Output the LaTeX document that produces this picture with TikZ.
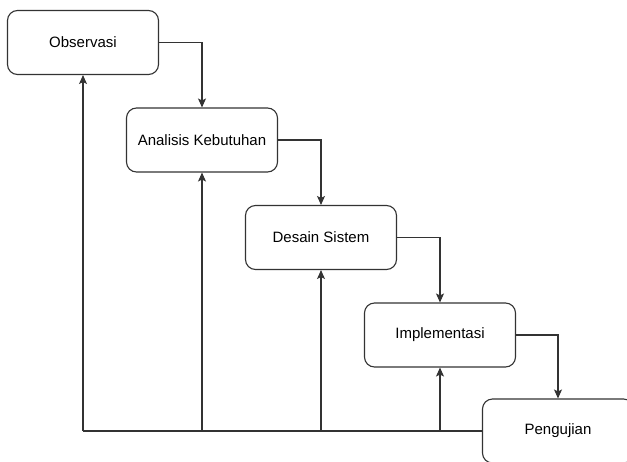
\documentclass[tikz,border=0pt]{standalone}
\usepackage{fontspec}
\setmainfont{Liberation Sans}
\usetikzlibrary{arrows.meta,positioning}
\tikzset{
  phase/.style={draw=black!80, line width=1.1pt, rounded corners=10pt,
    minimum width=151pt, minimum height=64pt, font=\fontsize{15}{18}\selectfont},
  flow/.style={draw=black!80, line width=1.1pt, -{Stealth[length=9pt,width=8pt,inset=2pt]}}
}
\begin{document}
\begin{tikzpicture}[x=1pt,y=-1pt]
    \useasboundingbox (0,0) rectangle (627,461);
    \clip (0,0) rectangle (627,461);
    \foreach \x/\y/\name/\txt in {83/42.5/obs/Observasi, 202/140/ana/Analisis Kebutuhan,
        321/237.5/des/Desain Sistem, 440/335/imp/Implementasi, 558/431/uji/Pengujian} {
      \node[phase] (\name) at (\x,\y) {\txt};
    }
    \foreach \a/\b in {obs/ana, ana/des, des/imp, imp/uji} {
      \draw[flow] (\a.east) -| (\b.north);
    }
    \draw[draw=black!80, line width=1.1pt] (uji.west) -- (uji.west -| obs.south);
    \foreach \b in {obs, ana, des, imp} {
      \draw[flow] (uji.west -| \b.south) -- (\b.south);
    }
  \end{tikzpicture}
\end{document}
